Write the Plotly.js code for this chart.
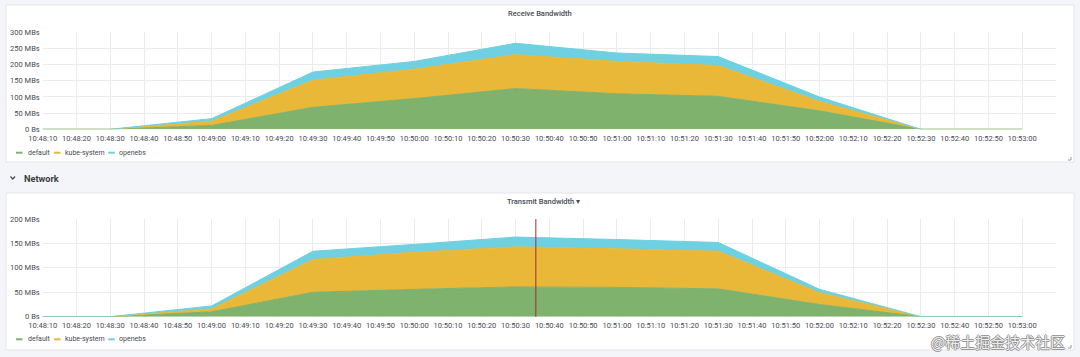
<!DOCTYPE html>
<html>
<head>
<meta charset="utf-8">
<script src="https://cdn.plot.ly/plotly-3.0.1.min.js"></script>
<style>
html,body{margin:0;padding:0;background:#f4f5f8;}
#chart{width:1080px;height:357px;}
</style>
</head>
<body>
<div id="chart"></div>
<script>
// ---- data ----
const day = '2024-01-01 ';
const times = ['10:48:00','10:48:30','10:49:00','10:49:30','10:50:00','10:50:30','10:51:00','10:51:30','10:52:00','10:52:30','10:53:00'];
const seriesNames = ['default','kube-system','openebs'];
const rxDefault = [0,0,12,68,95,126,110,102,57,0,0];
const rxKube    = [0,0,13,84,91,105,100,95,29,0,0];
const rxOpenebs = [0,0,8,25,24,35,26,28,14,0,0];
const txDefault = [0,0,10,50,56,61,60,57,25,0,0];
const txKube    = [0,0,6,67,76,82,79,77,24,0,0];
const txOpenebs = [0,0,6,17,16,20,19,18,7,0,0];
const xTickLabels = ['10:48:10','10:48:20','10:48:30','10:48:40','10:48:50','10:49:00','10:49:10','10:49:20','10:49:30','10:49:40','10:49:50',
  '10:50:00','10:50:10','10:50:20','10:50:30','10:50:40','10:50:50','10:51:00','10:51:10','10:51:20','10:51:30','10:51:40','10:51:50',
  '10:52:00','10:52:10','10:52:20','10:52:30','10:52:40','10:52:50','10:53:00'];
const rxTickVals = [0,50,100,150,200,250,300];
const rxTickText = ['0 Bs','50 MBs','100 MBs','150 MBs','200 MBs','250 MBs','300 MBs'];
const txTickVals = [0,50,100,150,200];
const txTickText = ['0 Bs','50 MBs','100 MBs','150 MBs','200 MBs'];
const xStart = '10:48:10', xEnd = '10:53:10';
const cursorTime = '10:50:36';
const panelTitles = ['Receive Bandwidth','Transmit Bandwidth ▾'];
const rowTitle = 'Network';
const watermark = '@稀土掘金技术社区';

// ---- styling ----
const colors = ['#7eb26d','#eab839','#6ed0e0'];
const W = 1080, H = 357;
const px = x => x / W, py = y => 1 - y / H;
const textColor = '#464c54';
const gridColor = '#ebebeb';
const FONT = 'Roboto, "Noto Sans", sans-serif';

const X = times.map(t => day + t);
function stack(vals, idx, sg, xa, ya) {
  return {
    x: X, y: vals, name: seriesNames[idx], type: 'scatter', mode: 'lines',
    stackgroup: sg, fill: 'tonexty',
    line: {color: colors[idx], width: 1, shape: 'linear'},
    fillcolor: colors[idx], xaxis: xa, yaxis: ya, showlegend: false, hoverinfo: 'skip'
  };
}
const data = [
  stack(rxDefault,0,'rx','x','y'), stack(rxKube,1,'rx','x','y'), stack(rxOpenebs,2,'rx','x','y'),
  stack(txDefault,0,'tx','x2','y2'), stack(txKube,1,'tx','x2','y2'), stack(txOpenebs,2,'tx','x2','y2')
];

const xTickVals = xTickLabels.map(t => day + t);
function xAxis(anchor, dom) {
  return {
    type: 'date', range: [day + xStart, day + xEnd], domain: dom, anchor: anchor,
    tickmode: 'array', tickvals: xTickVals, ticktext: xTickLabels,
    showgrid: true, gridcolor: gridColor, gridwidth: 1, zeroline: false, showline: false,
    ticks: '', ticklabelstandoff: 3, tickfont: {family: FONT, size: 7.5, color: textColor}, fixedrange: true
  };
}
function yAxis(anchor, dom, max, tv, tt) {
  return {
    range: [0, max], domain: dom, anchor: anchor,
    tickmode: 'array', tickvals: tv, ticktext: tt,
    showgrid: true, gridcolor: gridColor, gridwidth: 1, zeroline: false, showline: false,
    ticks: '', ticklabelstandoff: 2, tickfont: {family: FONT, size: 7.5, color: textColor}, fixedrange: true
  };
}
const xDom = [px(42.7), px(1056)];
const layout = {
  width: W, height: H, autosize: false,
  margin: {l: 0, r: 0, t: 0, b: 0, pad: 0},
  paper_bgcolor: '#f4f5f8', plot_bgcolor: 'rgba(0,0,0,0)',
  showlegend: false,
  xaxis: xAxis('y', xDom),
  yaxis: yAxis('x', [py(129.3), py(32.3)], 300, rxTickVals, rxTickText),
  xaxis2: xAxis('y2', xDom),
  yaxis2: yAxis('x2', [py(316.7), py(219)], 200, txTickVals, txTickText),
  shapes: [], annotations: []
};
// panels
[[5,162],[193,350]].forEach(([t,b]) => {
  layout.shapes.push({type:'rect', xref:'paper', yref:'paper', x0:px(6), x1:px(1074), y0:py(b), y1:py(t),
    fillcolor:'#ffffff', line:{color:'#e4e6ea', width:1}, layer:'below'});
  layout.shapes.push({type:'path', xref:'paper', yref:'paper',
    path:`M ${px(1071)} ${py(b-5)} L ${px(1071)} ${py(b-2)} L ${px(1068)} ${py(b-2)}`,
    line:{color:'#9a9ca0', width:1}});
});
// chevron for row
layout.shapes.push({type:'path', xref:'paper', yref:'paper',
  path:`M ${px(10.5)} ${py(176.5)} L ${px(12.8)} ${py(179)} L ${px(15.1)} ${py(176.5)}`,
  line:{color:textColor, width:1.2}});
// cursor line
layout.shapes.push({type:'line', xref:'x2', yref:'y2 domain', x0: day + cursorTime, x1: day + cursorTime, y0:0, y1:1,
  line:{color:'#a82c2c', width:1}});

// titles
layout.annotations.push({text: panelTitles[0], xref:'paper', yref:'paper', x:px(540), y:py(14), xanchor:'center', yanchor:'middle',
  showarrow:false, font:{family:FONT, size:7.5, color:textColor, weight:500}});
layout.annotations.push({text: panelTitles[1], xref:'paper', yref:'paper', x:px(543), y:py(201), xanchor:'center', yanchor:'middle',
  showarrow:false, font:{family:FONT, size:7.5, color:textColor, weight:500}});
layout.annotations.push({text: rowTitle, xref:'paper', yref:'paper', x:px(21.5), y:py(178), xanchor:'left', yanchor:'middle',
  showarrow:false, font:{family:FONT, size:9.2, color:'#3b3f46', weight:'bold'}});

// legends
const legendX = [[16, 25.7],[54, 62.7],[108.3, 117.3]];
[152.7, 339.3].forEach(ly => {
  seriesNames.forEach((n, i) => {
    layout.shapes.push({type:'line', xref:'paper', yref:'paper', x0:px(legendX[i][0]), x1:px(legendX[i][0]+6.5), y0:py(ly), y1:py(ly),
      line:{color:colors[i], width:2}});
    layout.annotations.push({text:n, xref:'paper', yref:'paper', x:px(legendX[i][1]), y:py(ly), xanchor:'left', yanchor:'middle',
      showarrow:false, font:{family:FONT, size:7, color:textColor}});
  });
});
// watermark
layout.annotations.push({text: watermark, xref:'paper', yref:'paper', x:px(1067), y:py(341.5), xanchor:'right', yanchor:'middle',
  showarrow:false, font:{family:'"Noto Sans CJK SC", sans-serif', size:15, color:'rgba(255,255,255,0.85)',
  shadow:'1px 0 0 #8a8a8a, -1px 0 0 #8a8a8a, 0 1px 0 #8a8a8a, 0 -1px 0 #8a8a8a'}});

Plotly.newPlot('chart', data, layout, {displayModeBar:false, staticPlot:true});
</script>
</body>
</html>
